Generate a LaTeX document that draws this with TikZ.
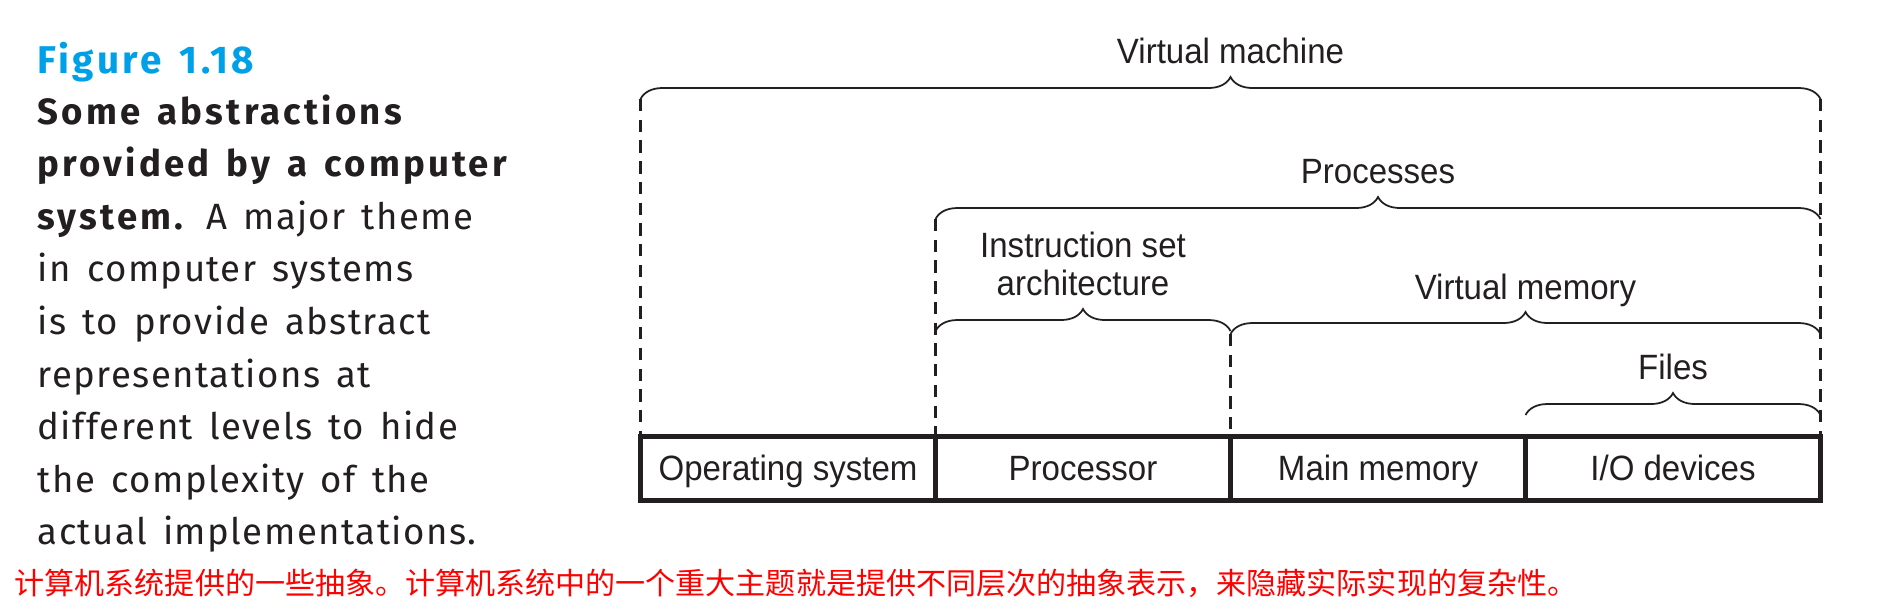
\documentclass[tikz,border=0pt]{standalone}
\usepackage{fontspec}
\usepackage{tikz}
\usetikzlibrary{positioning, decorations.pathreplacing}
\setmainfont{Fira Sans}[WordSpace = 1.45, UprightFeatures = {LetterSpace = 4}, BoldFeatures = {LetterSpace = 8.7}]
\newfontfamily\diagfont[FakeStretch = 0.94]{Liberation Sans}
\newfontfamily\cjk{Noto Sans CJK SC}
\definecolor{ink}{HTML}{231F20}
\definecolor{figblue}{HTML}{00A0E9}
\definecolor{notered}{HTML}{FF0000}

\begin{document}
\begin{tikzpicture}[
  cell/.style = {draw = ink, line width = 1.4pt, minimum width = 2.95cm, minimum height = 0.638cm,
    inner sep = 0pt, outer sep = 0pt, text height = 9pt, text depth = 2pt, text = ink,
    font = \diagfont\fontsize{10}{10.8}\selectfont},
  absbrace/.style = {decorate, decoration = {brace, amplitude = 0.22cm}, draw = ink, line width = 0.5pt},
  level/.style = {midway, above = 0.34cm, inner sep = 0pt, align = center, text = ink,
    font = \diagfont\fontsize{10}{10.8}\selectfont},
  guide/.style = {draw = ink, line width = 0.8pt, dash pattern = on 3.5pt off 2.4pt}
]
\useasboundingbox (0, 0) rectangle (18.89, -6.11);

% caption
\node (fig) at (0.37, -0.73) [anchor = base west, inner sep = 0pt, text = figblue,
  font = \bfseries\fontsize{11}{13}\selectfont] {Figure 1.18};
\node (caption) at (0.37, -0.94) [anchor = north west, inner sep = 0pt, align = left, text = ink,
  font = \fontsize{10.4}{14.95}\selectfont] {\textbf{Some abstractions}\\
  \textbf{provided by a computer}\\
  \textbf{system.} A major theme\\
  in computer systems\\
  is to provide abstract\\
  representations at\\
  different levels to hide\\
  the complexity of the\\
  actual implementations.};
\node (zh) at (0.14, -5.94) [anchor = base west, inner sep = 0pt, text = notered,
  font = \cjk\fontsize{8.55}{10}\selectfont] {计算机系统提供的一些抽象。计算机系统中的一个重大主题就是提供不同层次的抽象表示，来隐藏实际实现的复杂性。};

% hardware
\node[cell] (os) at (7.88, -4.686) {Operating system};
\node[cell, right = 0pt of os] (cpu) {Processor};
\node[cell, right = 0pt of cpu] (mem) {Main memory};
\node[cell, right = 0pt of mem] (io) {I/O devices};

% abstractions
\coordinate (vmL) at ([yshift = 3.377cm] os.north west);
\coordinate (vmR) at ([yshift = 3.377cm] io.north east);
\coordinate (prL) at ([yshift = 2.177cm] cpu.north west);
\coordinate (prR) at ([yshift = 2.177cm] io.north east);
\coordinate (isaL) at ([yshift = 1.057cm] cpu.north west);
\coordinate (isaR) at ([yshift = 1.057cm] cpu.north east);
\coordinate (vmemL) at ([yshift = 1.027cm] mem.north west);
\coordinate (vmemR) at ([yshift = 1.027cm] io.north east);
\coordinate (fileL) at ([yshift = 0.217cm] io.north west);
\coordinate (fileR) at ([yshift = 0.217cm] io.north east);

\draw[guide] (vmL) -- (os.north west);
\draw[guide] (vmR) -- (io.north east);
\draw[guide] (prL) -- (cpu.north west);
\draw[guide] (vmemL) -- (mem.north west);

\draw[absbrace] (vmL) -- (vmR) node[level] (vm) {Virtual machine};
\draw[absbrace] (prL) -- (prR) node[level] (proc) {Processes};
\draw[absbrace] (isaL) -- (isaR) node[level] (isa) {Instruction set\\architecture};
\draw[absbrace] (vmemL) -- (vmemR) node[level, text depth = 0pt] (vmem) {Virtual memory};
\draw[absbrace] (fileL) -- (fileR) node[level] (files) {Files};
\end{tikzpicture}
\end{document}
